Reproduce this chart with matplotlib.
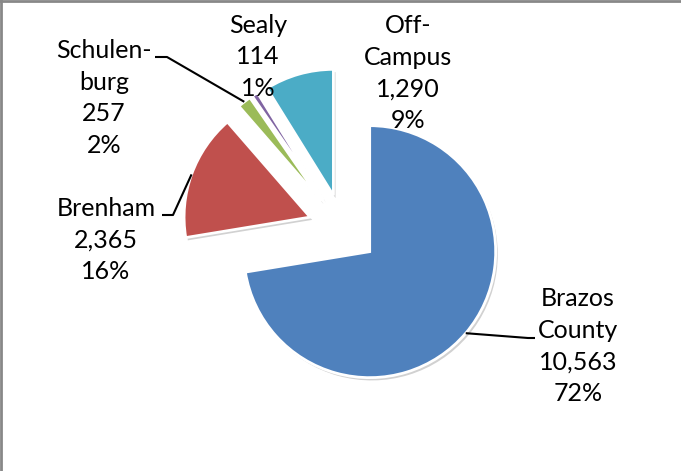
import numpy as np
import matplotlib
matplotlib.use("Agg")
import matplotlib.pyplot as plt
import matplotlib.patheffects as pe
from matplotlib.lines import Line2D

# enrollment by location
locations = ["Brazos\nCounty", "Brenham", "Schulen-\nburg", "Sealy", "Off-\nCampus"]
students = [10563, 2365, 257, 114, 1290]
pct_labels = ["72%", "16%", "2%", "1%", "9%"]
colors = ["#4F81BD", "#C0504D", "#9BBB59", "#8064A2", "#4BACC6"]

W, H = 681, 471
plt.rcParams['font.family'] = ['Lato', 'DejaVu Sans']

fig = plt.figure(figsize=(W / 100, H / 100), dpi=100)
ax = fig.add_axes([0, 0, 1, 1])

# explode is in data units here (pixels)
wedges, _ = ax.pie(students, explode=[35] * len(students), startangle=90,
                   counterclock=False, center=(343, H - 229), radius=126,
                   colors=colors,
                   wedgeprops=dict(edgecolor='white', linewidth=2))
for w in wedges:
    w.set_path_effects([pe.SimplePatchShadow(offset=(1.5, -2), shadow_rgbFace='#999999', alpha=0.45),
                        pe.Normal()])

ax.set_xlim(0, W)
ax.set_ylim(0, H)
ax.set_aspect('equal')
ax.axis('off')

# label positions (pixels from top-left) and leader elbows
label_pos = [(578, 346), (106, 240), (104, 98), (258, 57), (408, 73)]
elbows = {
    0: [(528, 338), (535, 338)],
    1: [(173, 215), (162, 215)],
    2: [(167, 57), (155, 57)],
}

for i, w in enumerate(wedges):
    txt = f"{locations[i]}\n{students[i]:,}\n{pct_labels[i]}"
    x, y = label_pos[i]
    ax.text(x, H - y, txt, ha='center', va='center', fontsize=18,
            linespacing=1.47, color='black')
    if i in elbows:
        mid = np.deg2rad((w.theta1 + w.theta2) / 2)
        cx, cy = w.center
        px, py = cx + w.r * np.cos(mid), cy + w.r * np.sin(mid)
        xs = [px] + [e[0] for e in elbows[i]]
        ys = [py] + [H - e[1] for e in elbows[i]]
        ax.plot(xs, ys, color='black', linewidth=1.5, solid_capstyle='butt')

# chart border (top and left visible)
fig.add_artist(Line2D([0.002, 0.002], [0, 1], transform=fig.transFigure, color='#888888', linewidth=2))
fig.add_artist(Line2D([0, 1], [0.997, 0.997], transform=fig.transFigure, color='#888888', linewidth=2))

fig.savefig('out.png', dpi=100, facecolor='white')
